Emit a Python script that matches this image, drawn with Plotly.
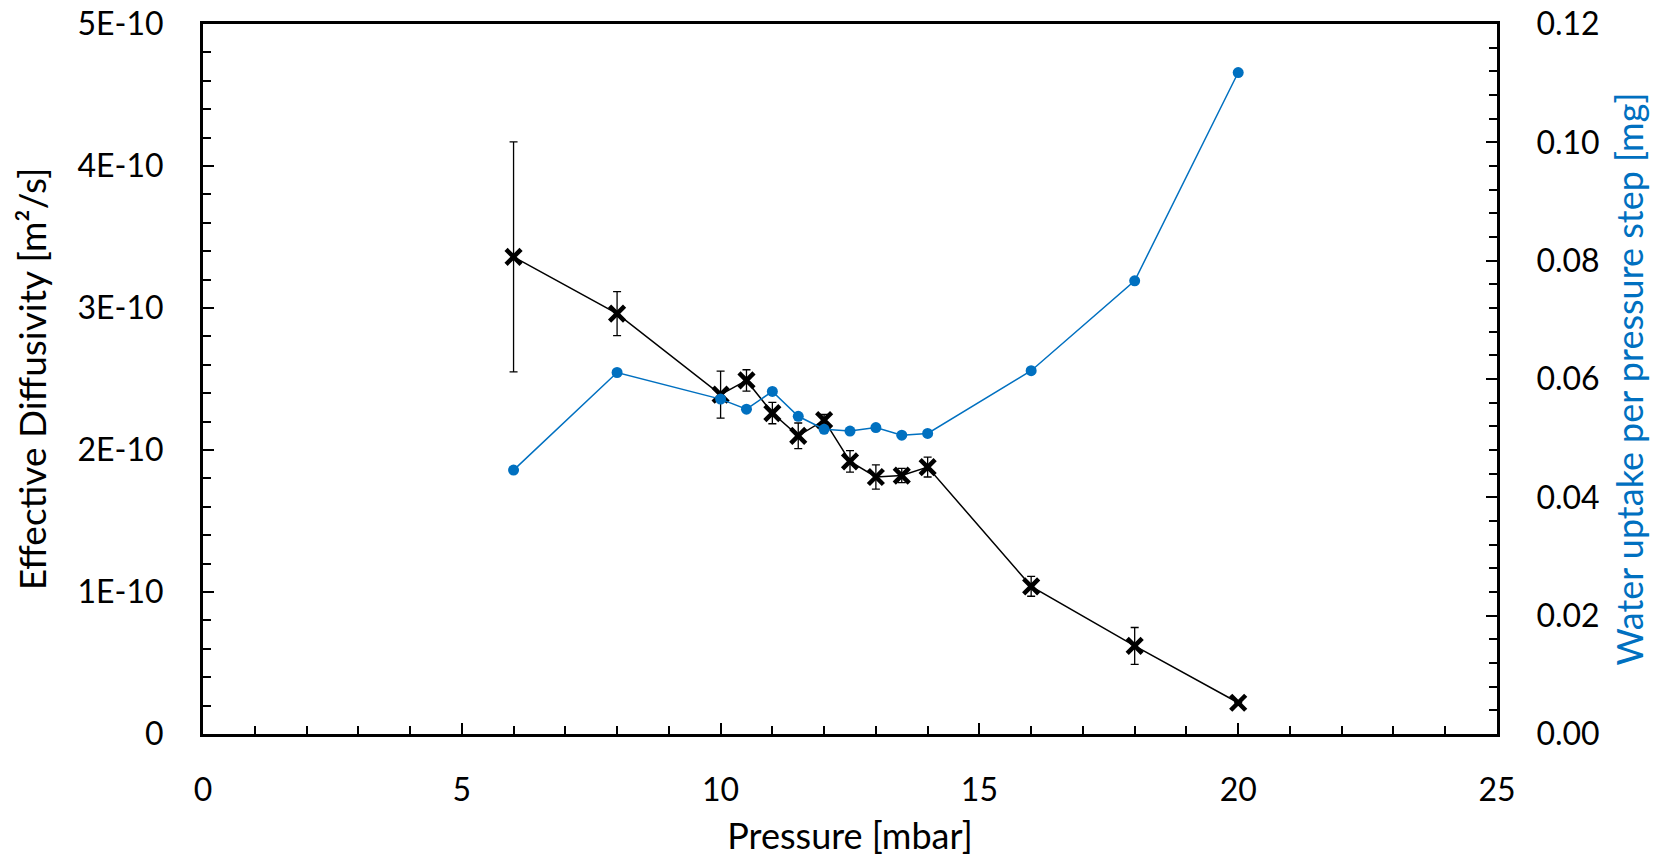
import plotly.graph_objects as go

# Pressure steps [mbar]
pressure = [6, 8, 10, 10.5, 11, 11.5, 12, 12.5, 13, 13.5, 14, 16, 18, 20]

# Effective diffusivity [m²/s] and its standard deviation
diffusivity = [3.36e-10, 2.96e-10, 2.39e-10, 2.49e-10, 2.26e-10, 2.10e-10, 2.21e-10,
               1.92e-10, 1.81e-10, 1.82e-10, 1.88e-10, 1.04e-10, 0.62e-10, 0.22e-10]
diffusivity_err = [0.81e-10, 0.155e-10, 0.165e-10, 0.075e-10, 0.075e-10, 0.09e-10, 0.04e-10,
                   0.076e-10, 0.085e-10, 0.05e-10, 0.07e-10, 0.07e-10, 0.13e-10, 0.0]

# Water uptake per pressure step [mg]
uptake = [0.0446, 0.0611, 0.0566, 0.0549, 0.0579, 0.0537, 0.0515,
          0.0512, 0.0518, 0.0505, 0.0508, 0.0614, 0.0766, 0.1118]

left_ticks = [0, 1e-10, 2e-10, 3e-10, 4e-10, 5e-10]
left_labels = ["0", "1E-10", "2E-10", "3E-10", "4E-10", "5E-10"]

BLUE = "#0070C0"
FONT = "Lato"
TICK_SIZE = 32
TITLE_SIZE = 36

fig = go.Figure()

fig.add_trace(go.Scatter(
    x=pressure, y=diffusivity, mode="lines+markers",
    line=dict(color="black", width=1.5),
    marker=dict(symbol="x-thin", size=15, line=dict(color="black", width=4.5)),
    error_y=dict(type="data", array=diffusivity_err, visible=True,
                 color="black", thickness=1.3, width=4),
    showlegend=False,
))

fig.add_trace(go.Scatter(
    x=pressure, y=uptake, mode="lines+markers", yaxis="y2",
    line=dict(color=BLUE, width=1.5),
    marker=dict(symbol="circle", size=11, color=BLUE),
    showlegend=False,
))

axis_common = dict(
    showline=True, linecolor="black", linewidth=3,
    ticks="inside", ticklen=11, tickwidth=2, tickcolor="black",
    showgrid=False, zeroline=False, automargin=False,
    tickfont=dict(family=FONT, size=TICK_SIZE, color="black"),
)

fig.update_layout(
    width=1667, height=857,
    margin=dict(l=203, r=170, t=24, b=123),
    paper_bgcolor="white", plot_bgcolor="white",
    font=dict(family=FONT, color="black"),
    xaxis=dict(
        **axis_common, range=[0, 25], dtick=5, tick0=0, mirror=True,
        minor=dict(dtick=1, ticks="inside", ticklen=8, tickwidth=2, tickcolor="black"),
        ticklabelstandoff=26,
        title=dict(text="Pressure [mbar]", font=dict(family=FONT, size=TITLE_SIZE, color="black"), standoff=18),
    ),
    yaxis=dict(
        **axis_common, range=[0, 5e-10], tickvals=left_ticks, ticktext=left_labels,
        minor=dict(dtick=0.2e-10, tick0=0, ticks="inside", ticklen=8, tickwidth=2, tickcolor="black"),
        ticklabelstandoff=30,
        title=dict(text="Effective Diffusivity [m²/s]", font=dict(family=FONT, size=37, color="black"), standoff=20),
    ),
    yaxis2=dict(
        **axis_common, range=[0, 0.12], dtick=0.02, tick0=0, tickformat=".2f",
        overlaying="y", side="right",
        minor=dict(dtick=0.004, tick0=0, ticks="inside", ticklen=8, tickwidth=2, tickcolor="black"),
        ticklabelstandoff=30,
        title=dict(text="Water uptake per pressure step [mg]", font=dict(family=FONT, size=TITLE_SIZE, color=BLUE), standoff=20),
    ),
)

fig.write_html("out.html")
